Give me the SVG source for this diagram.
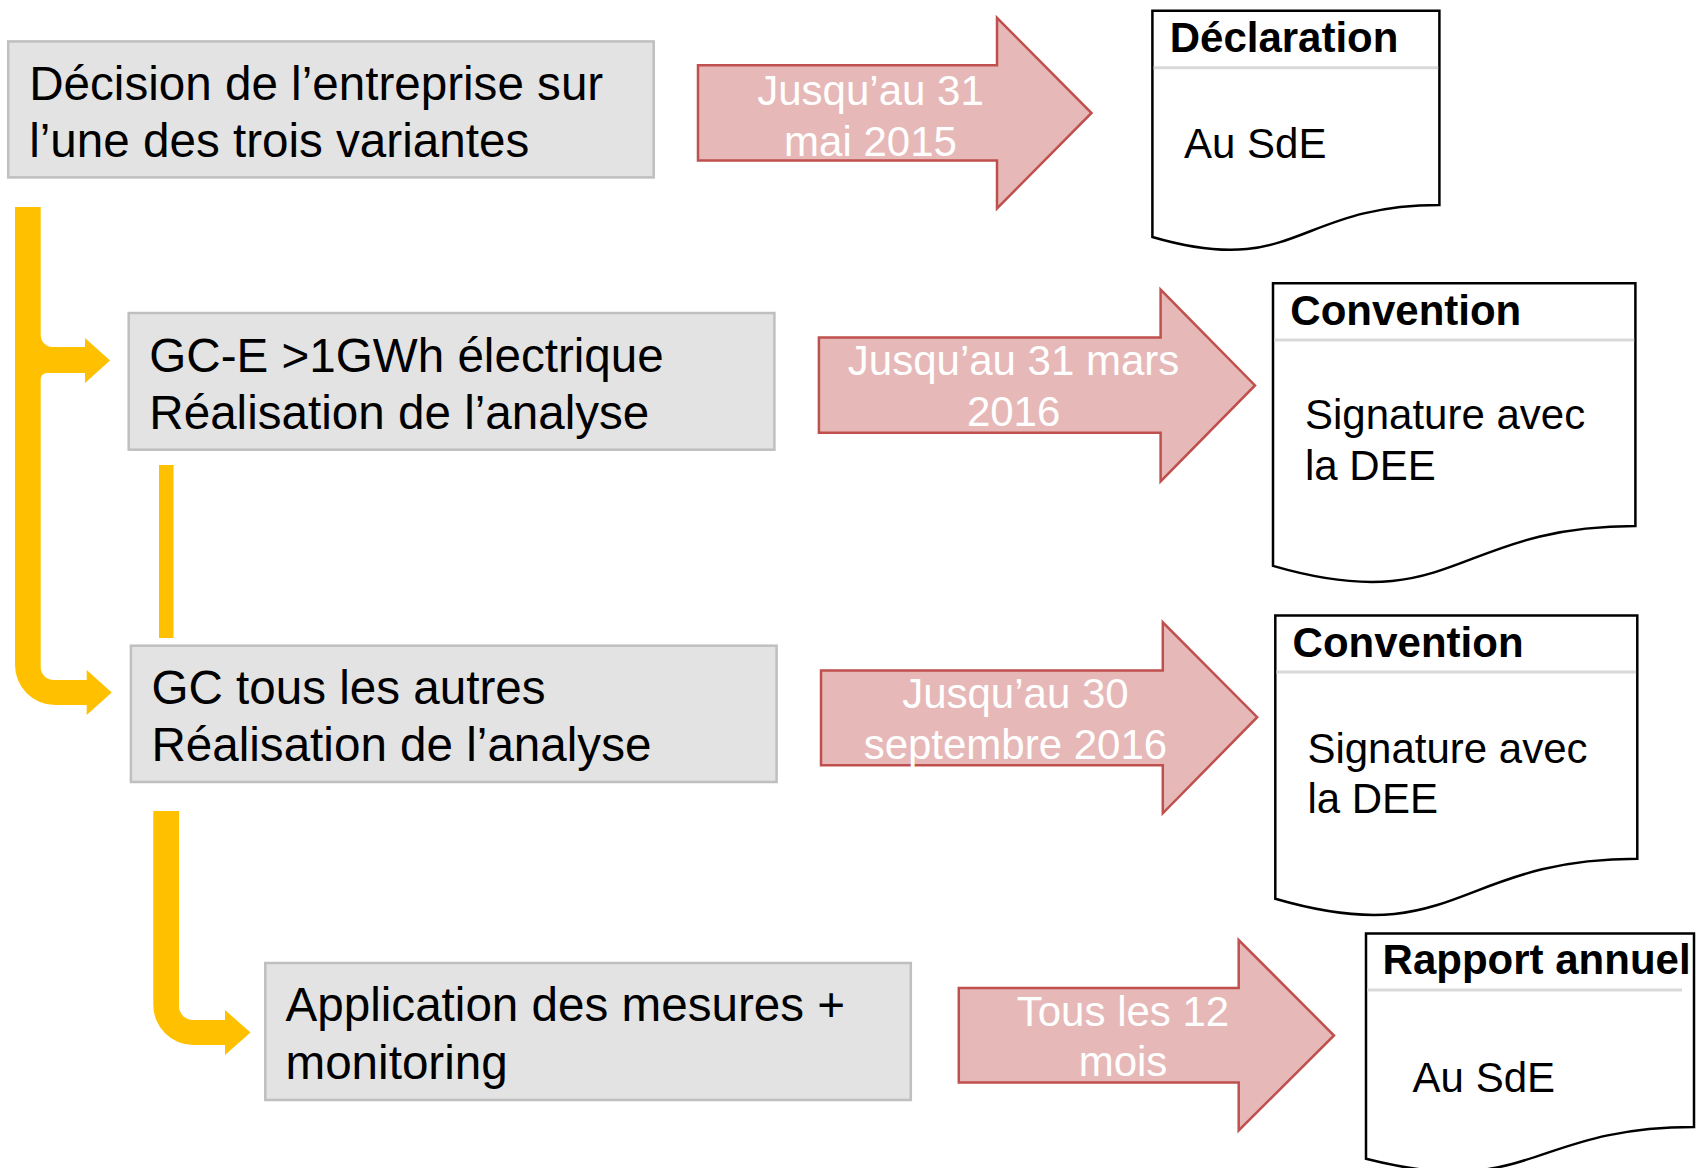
<svg xmlns="http://www.w3.org/2000/svg" width="1696" height="1168" viewBox="0 0 1696 1168">
<style>
.box{fill:#e3e3e3;stroke:#bfbfbf;stroke-width:2.5}
.bt{font-family:"Liberation Sans",Arial,sans-serif;font-size:47.6px;fill:#000}
.arr{fill:#e6b9b8;stroke:#c0504d;stroke-width:2.5;stroke-linejoin:miter}
.at{font-family:"Liberation Sans",Arial,sans-serif;font-size:42px;fill:#fff;text-anchor:middle}
.doc{fill:#fff;stroke:#000;stroke-width:2.5}
.sep{stroke:#d9d9d9;stroke-width:3}
.dh{font-family:"Liberation Sans",Arial,sans-serif;font-size:42px;font-weight:bold;fill:#000}
.db{font-family:"Liberation Sans",Arial,sans-serif;font-size:42px;fill:#000}
.yc{fill:#ffc000}
</style>
<rect width="1696" height="1168" fill="#fff"/>
<g id="connectors">
<path class="yc" d="M15,207 V665 A40,40 0 0 0 55,705 H86.7 V715 L111.7,692.5 L86.7,670 V680 H53.7 A13,13 0 0 1 40.7,667 V379 A6,6 0 0 1 46.7,373 H85 V383 L110,360.5 L85,338 V347 H52.7 A12,12 0 0 1 40.7,335 V207 Z"/>
<rect class="yc" x="159" y="465" width="14.5" height="173"/>
<path class="yc" d="M153.3,811 V1005 A40,40 0 0 0 193.3,1045 H225 V1055 L250.5,1032.5 L225,1010 V1020 H193 A14,14 0 0 1 179,1006 V811 Z"/>
</g>
<g id="box1">
<rect class="box" x="8.2" y="41.4" width="645.5" height="136"/>
<text class="bt" x="29.2" y="99.5">Décision de l’entreprise sur</text>
<text class="bt" x="29.2" y="156.5">l’une des trois variantes</text>
</g>
<g id="box2">
<rect class="box" x="128.7" y="313" width="645.7" height="136.7"/>
<text class="bt" x="149.3" y="371.5">GC-E &gt;1GWh électrique</text>
<text class="bt" x="149.3" y="429">Réalisation de l’analyse</text>
</g>
<g id="box3">
<rect class="box" x="130.9" y="645.7" width="645.7" height="136.3"/>
<text class="bt" x="151.4" y="704">GC tous les autres</text>
<text class="bt" x="151.4" y="761.2">Réalisation de l’analyse</text>
</g>
<g id="box4">
<rect class="box" x="265.3" y="963" width="645.5" height="137"/>
<text class="bt" x="285.5" y="1021">Application des mesures +</text>
<text class="bt" x="285.5" y="1079">monitoring</text>
</g>
<g id="arrow1">
<polygon class="arr" points="698,65.3 997,65.3 997,17.8 1091.5,113 997,208.5 997,160.5 698,160.5"/>
<text class="at" x="870.5" y="104.5">Jusqu’au 31</text>
<text class="at" x="870.5" y="155.5">mai 2015</text>
</g>
<g id="arrow2">
<polygon class="arr" points="818.9,337.6 1160.6,337.6 1160.6,289.5 1255,385.4 1160.6,481.5 1160.6,432.7 818.9,432.7"/>
<text class="at" x="1013.6" y="375">Jusqu’au 31 mars</text>
<text class="at" x="1013.6" y="425.5">2016</text>
</g>
<g id="arrow3">
<polygon class="arr" points="821,670.4 1162.8,670.4 1162.8,622.4 1257.2,717.2 1162.8,813.3 1162.8,765.2 821,765.2"/>
<text class="at" x="1015.4" y="708">Jusqu’au 30</text>
<text class="at" x="1015.4" y="758.5">septembre 2016</text>
</g>
<g id="arrow4">
<polygon class="arr" points="958.8,988 1238.7,988 1238.7,940 1334,1035.5 1238.7,1130.5 1238.7,1082.5 958.8,1082.5"/>
<text class="at" x="1123" y="1025.7">Tous les 12</text>
<text class="at" x="1123" y="1076.3">mois</text>
</g>
<g id="doc1">
<path class="doc" d="M1152.4,10.7 H1439.4 V205 C1295.9,205 1295.9,279 1152.4,237 Z"/>
<line class="sep" x1="1153.6" y1="67.7" x2="1438.2" y2="67.7"/>
<text class="dh" x="1169.7" y="52">Déclaration</text>
<text class="db" x="1184" y="157.5">Au SdE</text>
</g>
<g id="doc2">
<path class="doc" d="M1273,283.3 H1635.4 V526 C1454.2,526 1454.2,618.4 1273,565.9 Z"/>
<line class="sep" x1="1274.2" y1="340" x2="1634.2" y2="340"/>
<text class="dh" x="1290.3" y="324.5">Convention</text>
<text class="db" x="1305" y="429.3">Signature avec</text>
<text class="db" x="1305" y="480.2">la DEE</text>
</g>
<g id="doc3">
<path class="doc" d="M1275.3,615.4 H1637.3 V858.8 C1456.3,858.8 1456.3,951.5 1275.3,898.8 Z"/>
<line class="sep" x1="1276.5" y1="672" x2="1636.1" y2="672"/>
<text class="dh" x="1292.6" y="657">Convention</text>
<text class="db" x="1307.4" y="762.6">Signature avec</text>
<text class="db" x="1307.4" y="813">la DEE</text>
</g>
<g id="doc4">
<path class="doc" d="M1366,933.4 H1694 V1127 C1530,1127 1530,1200.8 1366,1158.8 Z"/>
<line class="sep" x1="1367.2" y1="990" x2="1682" y2="990"/>
<text class="dh" x="1382.6" y="974">Rapport annuel</text>
<text class="db" x="1412.6" y="1091.5">Au SdE</text>
</g>
</svg>
